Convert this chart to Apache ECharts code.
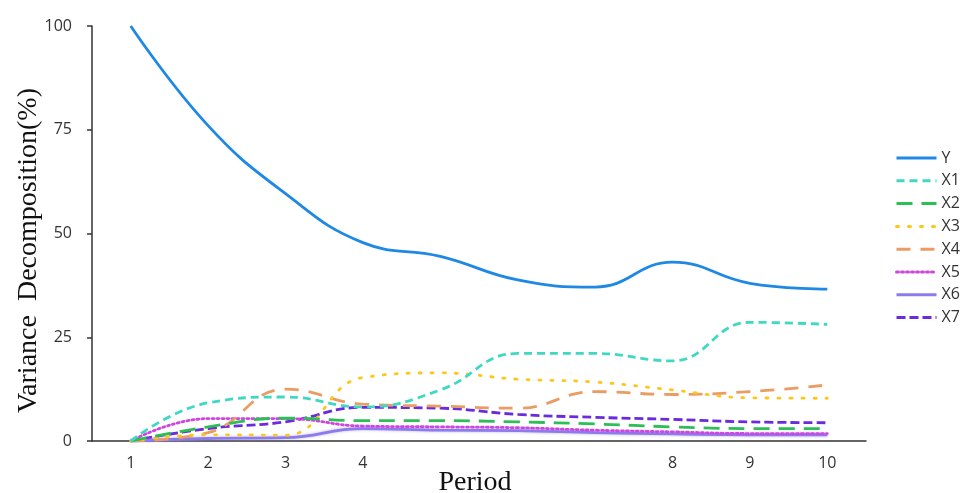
<!DOCTYPE html>
<html><head><meta charset="utf-8">
<script src="https://cdn.jsdelivr.net/npm/echarts@6/dist/echarts.min.js"></script>
<style>html,body{margin:0;padding:0;background:#fff}#c{width:960px;height:493px}</style>
</head><body><div id="c"></div>
<script>
var periods = ['1','2','3','4','5','6','7','8','9','10'];
var hiddenLabels = ['5','6','7'];
var yTicks = [0,25,50,75,100];
var seriesNames = ['Y','X1','X2','X3','X4','X5','X6','X7'];
var Y  = [100, 76.0, 59.6, 47.8, 44.5, 38.8, 37.1, 43.1, 38.0, 36.6];
var X1 = [0, 9.2, 10.6, 8.2, 12.3, 21.1, 21.1, 19.3, 28.6, 28.1];
var X2 = [0, 3.4, 5.5, 4.9, 4.9, 4.6, 4.1, 3.4, 3.0, 3.0];
var X3 = [0, 1.5, 1.4, 15.3, 16.4, 14.9, 14.2, 12.3, 10.4, 10.3];
var X4 = [0, 2.0, 12.5, 8.9, 8.4, 7.9, 11.9, 11.2, 11.9, 13.5];
var X5 = [0, 5.4, 5.4, 3.6, 3.4, 3.2, 2.6, 2.2, 1.8, 1.8];
var X6 = [0, 0.6, 0.8, 3.0, 2.6, 2.5, 2.0, 1.7, 1.5, 1.5];
var X7 = [0, 3.0, 4.6, 8.1, 7.9, 6.4, 5.7, 5.2, 4.6, 4.4];
var dataList = [Y,X1,X2,X3,X4,X5,X6,X7];
var colors = ['#1E88E5','#3ED8C3','#2DBE55','#FFC61A','#E99C64','#CF45E0','#8C7BEA','#6B2BDB'];
var dashes = ['solid',[8,5],[16,9],[2,10],[14,10],[2,3],'solid',[9,4]];
var widths = [2.8,2.8,2.8,2.8,2.8,2.8,2.8,2.8];

var chart = echarts.init(document.getElementById('c'), null, {renderer:'canvas'});
var series = seriesNames.map(function(n,i){
  var ls = {color:colors[i], width:widths[i], type:dashes[i], cap: (i===3||i===5)?'round':'butt'};
  if (i===6) { ls.shadowColor='rgba(140,123,234,0.6)'; ls.shadowBlur=3; }
  return {name:n, type:'line', data:dataList[i], smooth:0.45, symbol:'none',
    lineStyle:ls, itemStyle:{color:colors[i]}, z: 10-i};
});
chart.setOption({
  animation:false,
  backgroundColor:'#fff',
  grid:{left:92, right:94, top:26, bottom:52, containLabel:false, outerBoundsMode:'none'},
  legend:{orient:'vertical', left:890, top:145, itemWidth:40, itemHeight:14, itemGap:6.8,
    itemStyle:{opacity:0},
    lineStyle:{width:3},
    textStyle:{fontFamily:'Open Sans', fontSize:16, color:'#333'},
    data:seriesNames},
  xAxis:{type:'category', data:periods, boundaryGap:true,
    name:'Period', nameLocation:'middle', nameGap:28, nameMoveOverlap:false,
    nameTextStyle:{fontFamily:'Liberation Serif', fontSize:28, color:'#111', padding:[0,8,0,0]},
    axisLine:{lineStyle:{color:'#333', width:1.5}},
    axisTick:{alignWithLabel:true, length:5, lineStyle:{color:'#333', width:1.5}, interval:0},
    axisLabel:{interval:0, fontFamily:'Open Sans', fontSize:16, color:'#333', margin:14,
      formatter:function(v){return hiddenLabels.indexOf(v)>=0?'':v;}}},
  yAxis:{type:'value', min:yTicks[0], max:yTicks[yTicks.length-1], interval:25,
    name:'Variance  Decomposition(%)', nameLocation:'middle', nameGap:49, nameMoveOverlap:false,
    nameTextStyle:{fontFamily:'Liberation Serif', fontSize:28, color:'#111', padding:[0,34,0,0]},
    axisLine:{show:true, lineStyle:{color:'#333', width:1.5}},
    axisTick:{show:true, length:5, lineStyle:{color:'#333', width:1.5}},
    splitLine:{show:false},
    axisLabel:{fontFamily:'Open Sans', fontSize:16, color:'#333', margin:20}},
  series:series
});
</script></body></html>
